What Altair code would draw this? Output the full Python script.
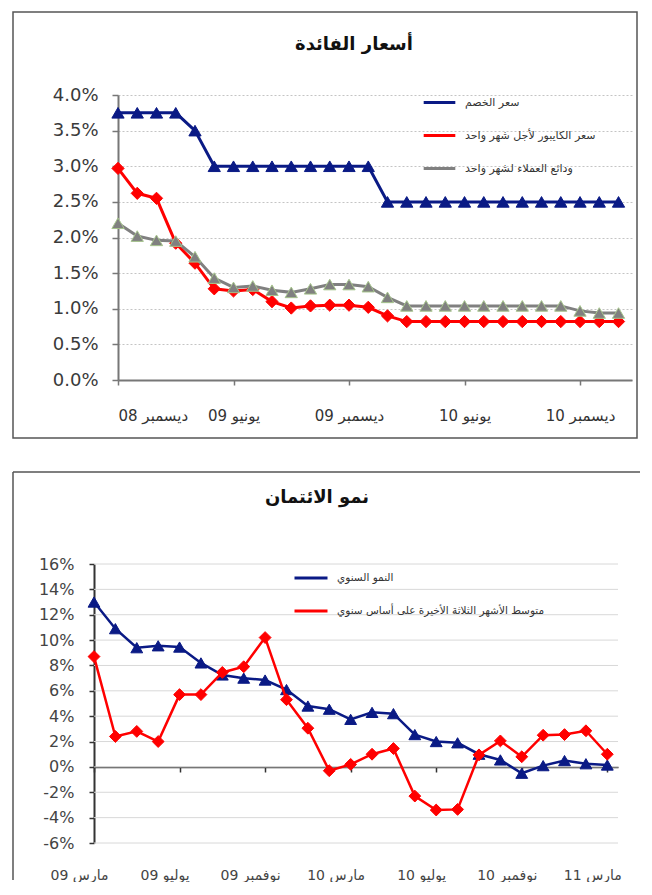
import json
import pandas as pd
import altair as alt

FONT = "DejaVu Sans"

# ---------------- Top panel: interest rates (monthly, Dec 2008 - Feb 2011) ----------------
top_title = "أسعار الفائدة"
top_series = ["سعر الخصم", "سعر الكايبور لأجل شهر واحد", "ودائع العملاء لشهر واحد"]
top_month_index = list(range(27))
top_tick_values = [0, 6, 12, 18, 24]
top_tick_labels = ["ديسمبر 08", "يونيو 09", "ديسمبر 09", "يونيو 10", "ديسمبر 10"]
top_y_ticks = [0.0, 0.5, 1.0, 1.5, 2.0, 2.5, 3.0, 3.5, 4.0]
discount_rate = [3.75, 3.75, 3.75, 3.75, 3.5, 3.0, 3.0, 3.0, 3.0, 3.0, 3.0, 3.0, 3.0, 3.0,
                 2.5, 2.5, 2.5, 2.5, 2.5, 2.5, 2.5, 2.5, 2.5, 2.5, 2.5, 2.5, 2.5]
kibor_1m = [2.97, 2.62, 2.55, 1.92, 1.64, 1.28, 1.25, 1.27, 1.1, 1.01, 1.04, 1.05, 1.05, 1.02,
            0.9, 0.82, 0.82, 0.82, 0.82, 0.82, 0.82, 0.82, 0.82, 0.82, 0.82, 0.82, 0.82]
deposits_1m = [2.2, 2.02, 1.96, 1.95, 1.73, 1.43, 1.3, 1.32, 1.26, 1.23, 1.28, 1.34, 1.34, 1.31,
               1.16, 1.04, 1.04, 1.04, 1.04, 1.04, 1.04, 1.04, 1.04, 1.04, 0.97, 0.94, 0.94]

# ---------------- Bottom panel: credit growth (monthly, Mar 2009 - Mar 2011) ----------------
bottom_title = "نمو الائتمان"
bottom_series = ["النمو السنوي", "متوسط الأشهر الثلاثة الأخيرة على أساس سنوي"]
bottom_month_index = list(range(25))
bottom_tick_values = [0, 4, 8, 12, 16, 20, 24]
bottom_tick_labels = ["مارس 09", "يوليو 09", "نوفمبر 09", "مارس 10", "يوليو 10", "نوفمبر 10", "مارس 11"]
bottom_y_ticks = [-6, -4, -2, 0, 2, 4, 6, 8, 10, 12, 14, 16]
annual_growth = [13.0, 10.9, 9.4, 9.55, 9.45, 8.2, 7.25, 7.0, 6.85, 6.1, 4.8, 4.55, 3.75,
                 4.3, 4.2, 2.55, 2.0, 1.9, 1.0, 0.55, -0.5, 0.1, 0.5, 0.25, 0.15]
avg3m_growth = [8.7, 2.4, 2.8, 2.0, 5.7, 5.7, 7.45, 7.9, 10.2, 5.3, 3.05, -0.3, 0.2,
                1.0, 1.45, -2.3, -3.4, -3.35, 0.95, 2.05, 0.8, 2.5, 2.55, 2.85, 1.0]

NAVY = "#0a1a85"
RED = "#ff0000"
GRAY = "#808080"


def long_df(months, series, values_list):
    rows = []
    for name, vals in zip(series, values_list):
        for m, v in zip(months, vals):
            rows.append({"m": m, "series": name, "v": v})
    return pd.DataFrame(rows)


def label_expr(labels, step):
    return json.dumps(labels, ensure_ascii=False) + "[round(datum.value/%d)]" % step


one_row = pd.DataFrame({"k": [0]})

# ======================= TOP =======================
top_df = long_df(top_month_index, top_series, [discount_rate, kibor_1m, deposits_1m])
top_colors = [NAVY, RED, GRAY]
top_shapes = ["triangle-up", "diamond", "triangle-up"]
top_pstroke = [NAVY, RED, "#a6c48c"]

tx = alt.X("m:Q", scale=alt.Scale(domain=[0, 26.7], nice=False, zero=False),
           axis=alt.Axis(values=top_tick_values, labelExpr=label_expr(top_tick_labels, 6),
                         grid=False, title=None, domainColor="#777", domainWidth=2,
                         tickColor="#777", tickWidth=1.5, tickSize=5, labelPadding=23,
                         labelFont=FONT, labelFontSize=15, labelColor="#333",
                         labelBaseline="top"))
ty = alt.Y("v:Q", scale=alt.Scale(domain=[0, 4], nice=False, zero=False),
           axis=alt.Axis(values=top_y_ticks, labelExpr="format(datum.value, '.1f') + '%'",
                         grid=True, gridColor="#c4c4c4", gridDash=[2, 2], gridWidth=1,
                         title=None, domainColor="#777", domainWidth=2, tickColor="#777",
                         tickWidth=1.5, tickSize=6, labelPadding=14, labelFont=FONT,
                         labelFontSize=18, labelColor="#3a3a3a"))
top_legend = alt.Legend(title=None, orient="none", legendX=304, legendY=-10, padding=0,
                        symbolType="stroke", symbolSize=1000, symbolStrokeWidth=3,
                        labelFont=FONT, labelFontSize=11, labelColor="#333",
                        labelOffset=8, rowPadding=9, labelLimit=300)

top_layers = [
    alt.Chart(one_row).mark_rect(filled=False, stroke="#555", strokeWidth=1.5).encode(
        x=alt.value(-105), x2=alt.value(519), y=alt.value(-83), y2=alt.value(343)),
    alt.Chart(one_row).mark_text(font=FONT, fontSize=18, fontWeight="bold", color="#111",
                                 align="center", baseline="middle").encode(
        x=alt.value(236), y=alt.value(-50), text=alt.value(top_title)),
]
for i in [1, 2, 0]:
    name = top_series[i]
    base = alt.Chart(top_df).transform_filter(alt.datum.series == name)
    top_layers.append(base.mark_line(strokeWidth=3).encode(
        x=tx, y=ty,
        color=alt.Color("series:N", scale=alt.Scale(domain=top_series, range=top_colors),
                        legend=top_legend)))
    top_layers.append(base.mark_point(filled=True, size=150, strokeWidth=1, opacity=1,
                                      shape=top_shapes[i], fill=top_colors[i],
                                      stroke=top_pstroke[i]).encode(x=tx, y=ty))

top_chart = alt.layer(*top_layers).properties(width=514, height=285)

# ======================= BOTTOM =======================
# Both panels share the same plot origin in the column layout; the bottom panel's
# y axis sits 24px further left, so its x range starts at -24.
SHIFT = 24
bot_df = long_df(bottom_month_index, bottom_series, [annual_growth, avg3m_growth])
bot_colors = [NAVY, RED]
bot_shapes = ["triangle-up", "diamond"]
grid_df = pd.DataFrame({"v": bottom_y_ticks})

bx = alt.X("m:Q", scale=alt.Scale(domain=[0, 24.5], nice=False, zero=False, range=[-SHIFT, 500]),
           axis=alt.Axis(values=bottom_tick_values, labelExpr=label_expr(bottom_tick_labels, 4),
                         grid=False, title=None, offset=-76, domainColor="#333", domainWidth=1.5,
                         tickColor="#333", tickWidth=1.5, tickSize=5, labelPadding=96,
                         labelAlign="center", labelOffset=-15, labelBaseline="top",
                         labelFont=FONT, labelFontSize=14, labelColor="#444"))
by_scale = alt.Scale(domain=[-6, 16], nice=False, zero=False)
by_axis = alt.Axis(values=bottom_y_ticks, labelExpr="toString(datum.value) + '%'",
                   grid=False, title=None, offset=SHIFT,
                   domainColor="#333", domainWidth=2, tickColor="#333", tickWidth=1.5,
                   tickSize=5, labelPadding=15, labelFont=FONT, labelFontSize=16,
                   labelColor="#444")
by = alt.Y("v:Q", scale=by_scale, axis=by_axis)
bot_legend = alt.Legend(title=None, orient="none", legendX=175, legendY=-4, padding=0,
                        symbolType="stroke", symbolSize=1089, symbolStrokeWidth=3,
                        labelFont=FONT, labelFontSize=10.5, labelColor="#333",
                        labelOffset=8, rowPadding=9, labelLimit=320)

bot_layers = [
    alt.Chart(one_row).mark_rule(stroke="#555", strokeWidth=1.5).encode(
        x=alt.value(-105), y=alt.value(-92), y2=alt.value(316)),
    alt.Chart(one_row).mark_rule(stroke="#555", strokeWidth=1.5).encode(
        x=alt.value(-105), x2=alt.value(522), y=alt.value(-92)),
    alt.Chart(one_row).mark_text(font=FONT, fontSize=18, fontWeight="bold", color="#111",
                                 align="center", baseline="middle").encode(
        x=alt.value(199), y=alt.value(-66), text=alt.value(bottom_title)),
    alt.Chart(grid_df).mark_rule(stroke="#d8d8d8", strokeWidth=1).encode(
        y=by, x=alt.value(-SHIFT), x2=alt.value(500)),
]
for i in [0, 1]:
    name = bottom_series[i]
    base = alt.Chart(bot_df).transform_filter(alt.datum.series == name)
    bot_layers.append(base.mark_line(strokeWidth=2.5).encode(
        x=bx, y=by,
        color=alt.Color("series:N", scale=alt.Scale(domain=bottom_series, range=bot_colors),
                        legend=bot_legend)))
    bot_layers.append(base.mark_point(filled=True, size=140, strokeWidth=1, opacity=1,
                                      shape=bot_shapes[i], fill=bot_colors[i],
                                      stroke=bot_colors[i]).encode(x=bx, y=by))

bottom_chart = alt.layer(*bot_layers).properties(width=500, height=279)

chart = alt.vconcat(top_chart, bottom_chart, spacing=32).resolve_scale(
    x="independent", y="independent", color="independent"
).configure_view(strokeWidth=0).properties(
    padding={"left": 4, "top": 3, "right": 0, "bottom": 0}, background="white")

chart.save("out.html", embed_options={"renderer": "svg", "actions": False})
